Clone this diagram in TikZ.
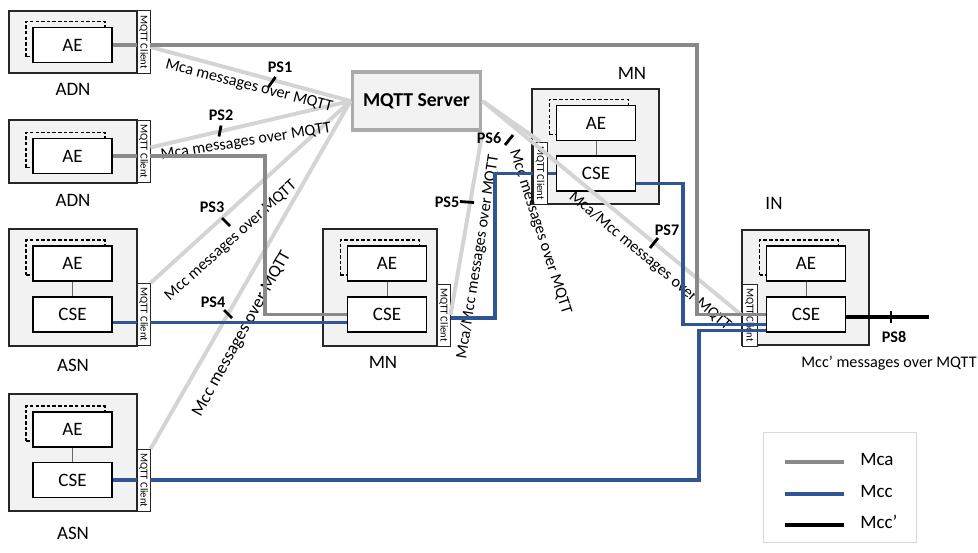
\documentclass[tikz,border=0pt]{standalone}
\usepackage{fontspec}
\setmainfont{Carlito}
\usetikzlibrary{positioning,calc}
\definecolor{mcagray}{RGB}{137,137,137}
\definecolor{mccblue}{RGB}{47,85,151}
\definecolor{msggray}{RGB}{212,212,212}
\definecolor{boxfill}{RGB}{242,242,242}
\definecolor{srvline}{RGB}{170,170,170}
\begin{document}
\begin{tikzpicture}[x=0.025cm,y=-0.025cm,
    nodebox/.style={rectangle,draw=black!85,fill=boxfill,line width=0.9pt,inner sep=0pt},
    entity/.style={rectangle,draw=black,fill=white,line width=0.9pt,minimum width=1.975cm,minimum height=0.875cm,inner sep=0pt,font=\fontsize{13.5}{16}\selectfont},
    shadowbox/.style={rectangle,draw=black,dash pattern=on 2.5pt off 1.5pt,line width=0.8pt,minimum width=1.975cm,minimum height=0.875cm,inner sep=0pt},
    client/.style={rectangle,draw=black!85,fill=white,line width=0.7pt,rotate=-90,minimum width=1.55cm,minimum height=0.325cm,inner sep=0pt,font=\fontsize{7.5}{8}\selectfont},
    nodelabel/.style={font=\fontsize{13.5}{16}\selectfont,inner sep=0pt},
    msglabel/.style={font=\fontsize{11.5}{13}\selectfont,inner sep=0pt},
    pslabel/.style={font=\fontsize{11.5}{13}\selectfont\bfseries,inner sep=0pt},
    msg/.style={msggray,line width=2.8pt},
    mca/.style={mcagray,line width=2.8pt},
    mcc/.style={mccblue,line width=2.8pt},
    mccp/.style={black,line width=3.4pt},
    tick/.style={black,line width=2pt},
    link/.style={black!60,line width=0.6pt}]
    \useasboundingbox (0,0) rectangle (978,552);

    % ADN 1
    \node[nodebox,minimum width=3.2cm,minimum height=1.55cm] (adn1) at (73,42) {};
    \node[shadowbox] (sh1) at (65.5,39) {};
    \node[entity] (ae1) at ($(sh1)+(7,6)$) {AE};
    \node[client] (cl1) at (143.5,42) {MQTT Client};
    \node[nodelabel] (lb1) at (73,89) {ADN};

    % ADN 2
    \node[nodebox,minimum width=3.2cm,minimum height=1.575cm] (adn2) at (73,151.5) {};
    \node[shadowbox] (sh2) at (65.5,150) {};
    \node[entity] (ae2) at ($(sh2)+(7,6)$) {AE};
    \node[client] (cl2) at (143.5,151.5) {MQTT Client};
    \node[nodelabel] (lb2) at (73,200) {ADN};

    % ASN 1
    \node[nodebox,minimum width=3.2cm,minimum height=2.925cm] (asn1) at (73,287.5) {};
    \node[shadowbox] (sh3) at (65.5,257.5) {};
    \node[entity] (ae3) at ($(sh3)+(7,6)$) {AE};
    \node[entity] (cse3) at (72.5,314.5) {CSE};
    \node[client] (cl3) at (143.5,314.5) {MQTT Client};
    \node[nodelabel] (lb3) at (73,365) {ASN};

    % ASN 2
    \node[nodebox,minimum width=3.2cm,minimum height=2.925cm] (asn2) at (73,452.5) {};
    \node[shadowbox] (sh4) at (65.5,423.5) {};
    \node[entity] (ae4) at ($(sh4)+(7,6)$) {AE};
    \node[entity] (cse4) at (72.5,480) {CSE};
    \node[client] (cl4) at (143.5,480.5) {MQTT Client};
    \node[nodelabel] (lb4) at (73,533) {ASN};

    % MN (middle)
    \node[nodebox,minimum width=2.85cm,minimum height=2.925cm] (mn1) at (380,287.5) {};
    \node[shadowbox] (sh5) at (380,257.5) {};
    \node[entity] (ae5) at ($(sh5)+(7,6)$) {AE};
    \node[entity] (cse5) at (387,314.5) {CSE};
    \node[client] (cl5) at (443.5,315) {MQTT Client};
    \node[nodelabel] (lb5) at (383,362) {MN};

    % MN (top right)
    \node[nodebox,minimum width=3.175cm,minimum height=2.875cm] (mn2) at (595.5,146.5) {};
    \node[shadowbox] (sh6) at (589,117) {};
    \node[entity] (ae6) at ($(sh6)+(7,6)$) {AE};
    \node[entity] (cse6) at (596,173.5) {CSE};
    \node[client,minimum height=0.35cm] (cl6) at (540,173) {MQTT Client};
    \node[nodelabel] (lb6) at (632,73) {MN};

    % IN
    \node[nodebox,minimum width=3.175cm,minimum height=2.875cm] (in) at (805.5,287.5) {};
    \node[shadowbox] (sh7) at (799,257.5) {};
    \node[entity] (ae7) at ($(sh7)+(7,6)$) {AE};
    \node[entity] (cse7) at (806,314.5) {CSE};
    \node[client,minimum height=0.375cm] (cl7) at (749.5,315) {MQTT Client};
    \node[nodelabel] (lb7) at (774,203) {IN};

    % AE -- CSE
    \foreach \i in {3,4,5,6,7} \draw[link] (ae\i.south) -- (cse\i.north);

    % MQTT Server
    \node[draw=srvline,line width=2.8pt,fill=boxfill,minimum width=3.2cm,minimum height=1.45cm,
          font=\fontsize{14}{16}\selectfont\bfseries] (srv) at (416.5,101) {MQTT Server};

    % messages over MQTT
    \draw[msg] ([yshift=-0.125cm]cl1.north) -- (srv.west);
    \draw[msg] ([yshift=0.1cm]cl2.north) -- (srv.west);
    \draw[msg] (cl3.north west) -- (srv.west);
    \draw[msg] (cl4.north west) -- (srv.west);
    \draw[msg] (srv.south east) -- (cl5.north);
    \draw[msg] (srv.east) -- (cl6.west);
    \draw[msg] (srv.east) -- (cl7.south);

    \node[msglabel,rotate=-14.5] (m1) at (249,86) {Mca messages over MQTT};
    \node[msglabel,rotate=9] (m2) at (246,142) {Mca messages over MQTT};
    \node[msglabel,rotate=42] (m3) at (231,241) {Mcc messages over MQTT};
    \node[msglabel,rotate=61,font=\fontsize{12.5}{14}\selectfont] (m4) at (242,334) {Mcc messages over MQTT};
    \node[msglabel,rotate=81] (m5) at (478,257) {Mca/Mcc messages over MQTT};
    \node[msglabel,rotate=-72] (m6) at (540,232) {Mcc messages over MQTT};
    \node[msglabel,rotate=-40] (m7) at (650,261) {Mca/Mcc messages over MQTT};
    \node[msglabel] (m8) at (889,363) {Mcc’ messages over MQTT};

    % reference points
    \node[pslabel] (ps1) at (280,67) {PS1};
    \node[pslabel] (ps2) at (221,115) {PS2};
    \node[pslabel] (ps3) at (212,207) {PS3};
    \node[pslabel] (ps4) at (213,302) {PS4};
    \node[pslabel] (ps5) at (447,202) {PS5};
    \node[pslabel] (ps6) at (489,138) {PS6};
    \node[pslabel] (ps7) at (667,230) {PS7};
    \node[pslabel] (ps8) at (894,337) {PS8};

    % Mca
    \coordinate (mcaA) at (697,0);
    \coordinate (mcaB) at (265,0);
    \draw[mca] (ae1.east) -- (cl1.south |- ae1.east);
    \draw[mca] (cl1.north |- ae1.east) -| (mcaA |- cse7.west) -- (cse7.west);
    \draw[mca] (ae2.east) -- (cl2.south |- ae2.east);
    \draw[mca] (cl2.north |- ae2.east) -| (mcaB |- cse5.west) -- (cse5.west);

    % Mcc
    \coordinate (mccA) at (495,0);
    \coordinate (mccB) at (683,0);
    \coordinate (mccC) at (699,0);
    \coordinate (inMid) at ([yshift=-0.25cm]cse7.west);
    \coordinate (inLow) at ([yshift=-0.4cm]cse7.west);
    \draw[mcc] ([yshift=-0.2cm]cse3.east) -- ([yshift=-0.2cm]cl3.south);
    \draw[mcc] ([yshift=-0.2cm]cl3.north) -- ([yshift=-0.2cm]cse5.west);
    \draw[mcc] ([yshift=-0.075cm]cl5.north) -| (mccA |- cse6.west) -- (cl6.south |- cse6.west);
    \draw[mcc] (cl6.north |- cse6.west) -- (cse6.west);
    \draw[mcc] ([yshift=-0.25cm]cse6.east) -| (mccB |- inMid) -- (inMid);
    \draw[mcc] (cse4.east) -- (cl4.south |- cse4.east);
    \draw[mcc] (cl4.north |- cse4.east) -| (mccC |- inLow) -- (inLow);

    % Mcc'
    \coordinate (mccpEnd) at (929,317);
    \draw[mccp] (cse7.east |- mccpEnd) -- (mccpEnd);

    % ticks
    \foreach \cx/\cy/\dx/\dy in {272/82/3.5/-5, 220/131/1/-5.5, 226/222/4/4, 228/314/4/4,
        467/202/7/0.5, 509/140/4/-5, 654/243/4/-5, 891/317/0/6}
        \draw[tick] (\cx-\dx,\cy-\dy) -- (\cx+\dx,\cy+\dy);

    % legend
    \node[draw=black!15,line width=0.6pt,minimum width=3.825cm,minimum height=2.75cm] (legend) at (839.5,487) {};
    \foreach \st/\lab/\yy in {mca/Mca/462, mcc/Mcc/494, mccp/Mcc’/525} {
        \coordinate (ls\st) at (785,\yy);
        \coordinate (le\st) at (844,\yy);
        \draw[\st] (ls\st) -- (le\st);
        \node[nodelabel,anchor=west] (lt\st) at (860,\yy-3) {\lab};
    }
\end{tikzpicture}
\end{document}
